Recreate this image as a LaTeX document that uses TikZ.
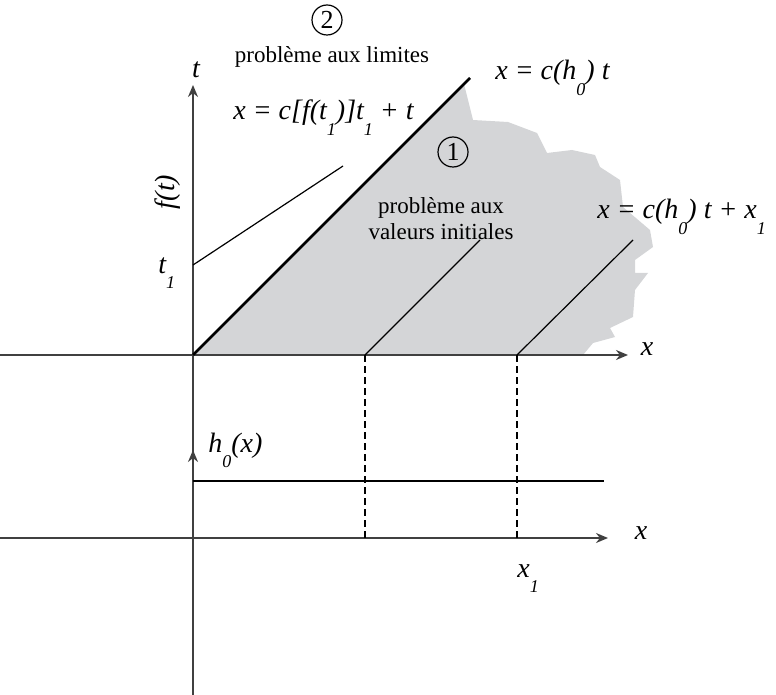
\documentclass[tikz,border=0pt]{standalone}
\usepackage{fontspec}
\setmainfont{Liberation Serif}
\usepackage{xcolor}
\usepackage{tikz}
\usetikzlibrary{arrows.meta,positioning,calc}

\definecolor{zonegray}{HTML}{D4D5D7}
\newcommand{\lowsub}[1]{\raisebox{-0.55em}{\fontsize{9}{9}\selectfont #1}}

\begin{document}
\begin{tikzpicture}[x=0.5pt,y=-0.5pt,
  ax/.style={black!75,line width=0.8pt,-{Stealth[length=6pt,width=5pt]}},
  charac/.style={black,line width=0.6pt},
  eq/.style={font=\fontsize{14}{16}\selectfont\itshape,inner sep=0pt},
  txt/.style={font=\fontsize{11.5}{13}\selectfont,inner sep=0pt,align=center},
  num/.style={circle,draw,line width=0.6pt,minimum size=15pt,inner sep=0pt,font=\fontsize{13}{13}\selectfont}]
  \useasboundingbox (0,0) rectangle (776,695);
  % points of the diagram
  \coordinate (O) at (193,355);
  \coordinate (tbot) at (193,695);
  \coordinate (ttop) at (193,85);
  \coordinate (xleft) at (0,355);
  \coordinate (xright) at (628,355);
  \coordinate (A) at (365,355);
  \coordinate (B) at (517,355);
  \coordinate (t1) at (193,265);
  % domain 1 (initial values)
  \fill[zonegray] (O) -- (464,84) -- (473,120) -- (508,122) -- (537,133) -- (547,153)
    -- (572,150) -- (595,155) -- (600,167) -- (620,180) -- (623,207) -- (650,230)
    -- (653,247) -- (635,260) -- (635,273) -- (648,273) -- (635,290) -- (633,317)
    -- (610,328) -- (615,337) -- (593,343) -- (583,355) -- cycle;
  % axes (x,t)
  \draw[ax] (tbot) -- (ttop);
  \draw[ax] (xleft) -- (xright);
  \node[eq] (tlab) at (196,70) {t};
  \node[eq] (xlab) at (647,349) {x};
  % characteristics
  \draw[black,line width=1.3pt] (O) -- (470,78) coordinate (Ctop);
  \draw[charac] (A) -- (480,240) coordinate (Atop);
  \draw[charac] (B) -- (633,240) coordinate (Btop);
  \draw[charac] (t1) -- (343,166) coordinate (Ftop);
  \node[eq,anchor=base west] (eqC) at (495,80) {x = c(h\lowsub{0}) t};
  \node[eq,anchor=base west] (eqF) at (233,120) {x = c[f(t\lowsub{1})]t\lowsub{1} + t};
  \node[eq,anchor=base west] (eqB) at (597,219) {x = c(h\lowsub{0}) t + x\lowsub{1}};
  \node[eq,rotate=90] (flab) at (168,192) {f(t)};
  \node[eq,anchor=base west] (t1lab) at (158,273) {t\lowsub{1}};
  % zones
  \node[num] (two) at (327,20) {2};
  \node[txt,anchor=base] (lim) at (332,63) {problème aux limites};
  \node[num] (one) at (453,152) {1};
  \node[txt] (init) at (441,219) {problème aux\\valeurs initiales};
  % lower graph h0(x)
  \coordinate (O2) at (193,538);
  \coordinate (x2left) at (0,538);
  \coordinate (x2right) at (608,538);
  \coordinate (A2) at (365,538);
  \coordinate (B2) at (517,538);
  \draw[ax] (O2) -- (193,450) coordinate (h2top);
  \draw[ax] (x2left) -- (x2right);
  \draw[charac] (193,481) coordinate (hl) -- (604,481) coordinate (hr);
  \draw[charac,dash pattern=on 3.5pt off 2pt] (A) -- (A2);
  \draw[charac,dash pattern=on 3.5pt off 2pt] (B) -- (B2);
  \node[eq,anchor=base west] (hlab) at (208,452) {h\lowsub{0}(x)};
  \node[eq] (x2lab) at (641,533) {x};
  \node[eq,anchor=base west] (x1lab) at (517,577) {x\lowsub{1}};
\end{tikzpicture}
\end{document}
